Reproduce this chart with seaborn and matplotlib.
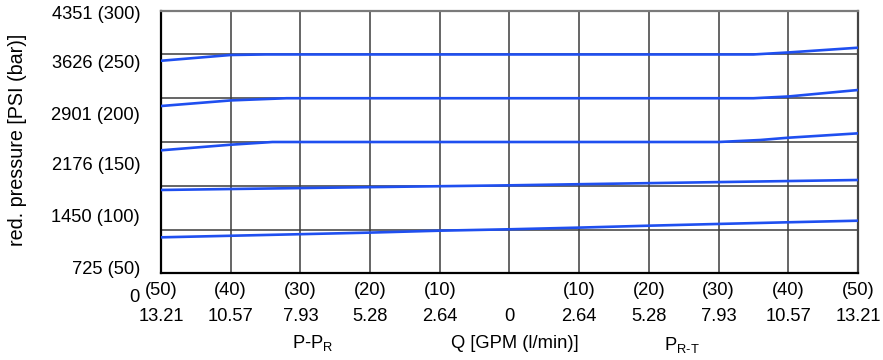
"""
plot.py
Reduced pressure vs flow chart (P-PR / PR-T) redrawn with seaborn.
"""

import pandas as pd
import matplotlib
matplotlib.use("Agg")
import matplotlib.pyplot as plt
import seaborn as sns

# ----------------------------------------------------------------------
# Data
# ----------------------------------------------------------------------
# Flow in l/min: negative = P-PR side, positive = PR-T side
FLOW_TICKS = [-50, -40, -30, -20, -10, 0, 10, 20, 30, 40, 50]
LPM_LABELS = ["(50)", "(40)", "(30)", "(20)", "(10)", "", "(10)", "(20)", "(30)", "(40)", "(50)"]
GPM_LABELS = ["13.21", "10.57", "7.93", "5.28", "2.64", "0", "2.64", "5.28", "7.93", "10.57", "13.21"]

# y tick labels and where they sit (in bar, the original places them off-grid)
Y_LABELS = ["4351 (300)", "3626 (250)", "2901 (200)", "2176 (150)", "1450 (100)", "725 (50)"]
Y_LABEL_POS = [297.7, 241.7, 182.0, 125.7, 66.6, 7.2]
ZERO_LABEL_POS = -28.2

# grid lines in bar
GRID_BAR = [0, 50, 100, 150, 200, 250, 300]

# reduced pressure curves (flow l/min, pressure bar)
c250_q = [-50, -40, -35, 35, 40, 50]
c250_p = [242.8, 249.4, 250.0, 250.0, 252.3, 257.7]

c200_q = [-50, -40, -32, 35, 40, 50]
c200_p = [191.1, 197.5, 200.0, 200.0, 202.0, 209.4]

c150_q = [-50, -40, -34, 30, 36, 40, 50]
c150_p = [140.5, 146.9, 150.0, 150.0, 152.3, 154.9, 159.9]

c100_q = [-50, -40, -10, 0, 10, 40, 50]
c100_p = [95.2, 96.3, 99.5, 100.5, 101.8, 105.4, 106.6]

c50_q = [-50, -40, -20, -10, 0, 10, 20, 30, 40, 50]
c50_p = [41.1, 42.9, 46.5, 48.7, 50.3, 52.2, 54.4, 56.4, 58.3, 60.1]

CURVE_COLOR = "#1f4ff0"
GRID_COLOR = "#3c3c3c"
FS = 13.2


def build_frame():
    """Long-form table of all curves for seaborn."""
    parts = []
    for name, q, p in [("250", c250_q, c250_p), ("200", c200_q, c200_p),
                       ("150", c150_q, c150_p), ("100", c100_q, c100_p),
                       ("50", c50_q, c50_p)]:
        parts.append(pd.DataFrame({"flow": q, "pressure": p, "setting": name}))
    return pd.concat(parts, ignore_index=True)


def main():
    sns.set_style("white")
    plt.rcParams["font.family"] = ["Liberation Sans", "DejaVu Sans"]
    plt.rcParams["mathtext.fontset"] = "custom"
    plt.rcParams["mathtext.rm"] = "Liberation Sans"
    plt.rcParams["mathtext.it"] = "Liberation Sans"
    plt.rcParams["text.color"] = "black"
    plt.rcParams["xtick.color"] = "black"
    plt.rcParams["ytick.color"] = "black"

    fig = plt.figure(figsize=(8.83, 3.6), dpi=100)
    ax = fig.add_axes([0.1823, 0.2408, 0.7894, 0.7295])

    df = build_frame()
    sns.lineplot(data=df, x="flow", y="pressure", units="setting",
                 estimator=None, color=CURVE_COLOR, lw=1.9, ax=ax,
                 legend=False, sort=False, zorder=3)

    ax.set_xlim(-50, 50)
    ax.set_ylim(0, 300)

    # x ticks: l/min in brackets on major ticks, GPM on minor ticks below
    ax.xaxis.remove_overlapping_locs = False
    ax.set_xticks(FLOW_TICKS)
    ax.set_xticklabels(LPM_LABELS, fontsize=FS)
    ax.set_xticks(FLOW_TICKS, minor=True)
    ax.set_xticklabels(GPM_LABELS, minor=True, fontsize=FS)
    ax.tick_params(axis="x", which="major", length=0, pad=5.9)
    ax.tick_params(axis="x", which="minor", length=0, pad=24.9)

    # y ticks: labels where the original puts them, grid on minor ticks
    ax.set_yticks(Y_LABEL_POS)
    ax.set_yticklabels(Y_LABELS, fontsize=FS)
    ax.set_yticks(GRID_BAR, minor=True)
    ax.tick_params(axis="y", which="both", length=0, pad=15)
    ax.text(-21 / 697, ZERO_LABEL_POS, "0", transform=ax.get_yaxis_transform(),
            ha="right", va="center", fontsize=FS, clip_on=False)

    ax.grid(False)
    ax.grid(True, axis="x", which="major", color=GRID_COLOR, lw=1.1)
    ax.grid(True, axis="y", which="minor", color=GRID_COLOR, lw=1.1)
    ax.set_axisbelow(True)

    ax.spines["left"].set(color="black", lw=1.6)
    ax.spines["bottom"].set(color="black", lw=1.6)
    ax.spines["top"].set(color="#7a7a7a", lw=1.6)
    ax.spines["right"].set(color="#444444", lw=1.6)

    ax.set_xlabel("")
    ax.set_ylabel("")
    fig.text(18 / 883, 1 - 140 / 360, "red. pressure [PSI (bar)]", rotation=90,
             ha="center", va="center", fontsize=14.2)

    fig.text(313 / 883, 1 - 343 / 360, r"P-P$_\mathregular{R}$",
             ha="center", va="center", fontsize=FS)
    fig.text(515 / 883, 1 - 343 / 360, "Q [GPM (l/min)]",
             ha="center", va="center", fontsize=FS)
    fig.text(682 / 883, 1 - 345 / 360, r"P$_\mathregular{R\text{-}T}$",
             ha="center", va="center", fontsize=FS)

    fig.savefig("out.png", dpi=100)
    plt.close(fig)


if __name__ == "__main__":
    main()
